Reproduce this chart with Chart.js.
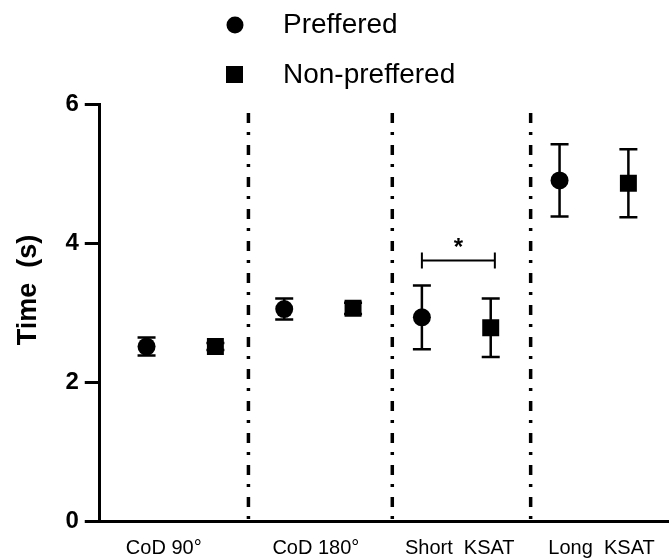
<!DOCTYPE html>
<html>
<head>
<meta charset="utf-8">
<script src="https://cdn.jsdelivr.net/npm/chart.js@4.4.1/dist/chart.umd.min.js"></script>
<style>
  html, body { margin: 0; padding: 0; background: #fff; }
  #wrap { width: 669px; height: 560px; }
</style>
</head>
<body>
<div id="wrap"><canvas id="timeChart" width="669" height="560"></canvas></div>
<script>
// Test conditions and mean +/- SD times (s)
const categories = ['CoD 90°', 'CoD 180°', 'Short  KSAT', 'Long  KSAT'];
const preferred = [2.51, 3.05, 2.93, 4.90];
const preferredSD = [0.13, 0.15, 0.46, 0.52];
const nonPreferred = [2.51, 3.06, 2.78, 4.86];
const nonPreferredSD = [0.05, 0.08, 0.42, 0.49];
const yTicks = [0, 2, 4, 6];

// x layout (in scale units, one unit = distance between two markers)
const labelPos = [1.25, 3.46, 5.55, 7.61];
const dividerPos = [2.48, 4.57, 6.58];
const sigPair = { from: 5.0, to: 6.06, y: 3.75, label: '*' };

const FONT = "'Liberation Sans', Arial, sans-serif";

const prefPoints = preferred.map((v, i) => ({ x: 2 * i + 1, y: v }));
const nonPrefPoints = nonPreferred.map((v, i) => ({ x: 2 * i + 2, y: v }));

// error bars, dash-dot dividers, significance bracket and legend
const extras = {
    id: 'extras',
    afterDatasetsDraw(chart) {
        const ctx = chart.ctx;
        const xs = chart.scales.x, ys = chart.scales.y;
        const area = chart.chartArea;
        ctx.save();
        ctx.strokeStyle = '#000';
        ctx.fillStyle = '#000';

        // dividers
        ctx.lineWidth = 3.5;
        ctx.setLineDash([10, 9, 3, 10]);
        dividerPos.forEach(d => {
            const px = xs.getPixelForValue(d);
            ctx.beginPath();
            ctx.moveTo(px, area.top + 9);
            ctx.lineTo(px, area.bottom);
            ctx.stroke();
        });
        ctx.setLineDash([]);

        // error bars
        ctx.lineWidth = 2.5;
        const bars = (pts, sd) => pts.forEach((p, i) => {
            const px = xs.getPixelForValue(p.x);
            const top = ys.getPixelForValue(p.y + sd[i]);
            const bot = ys.getPixelForValue(p.y - sd[i]);
            ctx.beginPath();
            ctx.moveTo(px, top); ctx.lineTo(px, bot);
            ctx.moveTo(px - 9, top); ctx.lineTo(px + 9, top);
            ctx.moveTo(px - 9, bot); ctx.lineTo(px + 9, bot);
            ctx.stroke();
        });
        bars(prefPoints, preferredSD);
        bars(nonPrefPoints, nonPreferredSD);

        // significance bracket
        const x1 = xs.getPixelForValue(sigPair.from);
        const x2 = xs.getPixelForValue(sigPair.to);
        const yb = ys.getPixelForValue(sigPair.y);
        ctx.lineWidth = 2;
        ctx.beginPath();
        ctx.moveTo(x1, yb); ctx.lineTo(x2, yb);
        ctx.moveTo(x1, yb - 8); ctx.lineTo(x1, yb + 8);
        ctx.moveTo(x2, yb - 8); ctx.lineTo(x2, yb + 8);
        ctx.stroke();
        ctx.font = 'bold 24px ' + FONT;
        ctx.textAlign = 'center';
        ctx.textBaseline = 'middle';
        ctx.fillText(sigPair.label, (x1 + x2) / 2, yb - 12);

        // legend
        ctx.beginPath();
        ctx.arc(235, 25, 8.5, 0, Math.PI * 2);
        ctx.fill();
        ctx.fillRect(226, 66, 17, 17);
        ctx.font = '28px ' + FONT;
        ctx.textAlign = 'left';
        ctx.fillText(chart.data.datasets[0].label, 283, 25);
        ctx.fillText(chart.data.datasets[1].label, 283, 75);
        ctx.restore();
    }
};

new Chart(document.getElementById('timeChart'), {
    type: 'scatter',
    data: {
        datasets: [{
            label: 'Preffered',
            data: prefPoints,
            pointStyle: 'circle',
            pointRadius: 9,
            backgroundColor: '#000',
            borderWidth: 0
        }, {
            label: 'Non-preffered',
            data: nonPrefPoints,
            pointStyle: 'rect',
            pointRadius: 12,
            backgroundColor: '#000',
            borderWidth: 0
        }]
    },
    options: {
        responsive: false,
        animation: false,
        layout: { autoPadding: false, padding: { top: 104, left: 8, right: 0, bottom: -15 } },
        plugins: {
            legend: { display: false },
            tooltip: { enabled: false }
        },
        scales: {
            x: {
                type: 'linear',
                min: 0.32,
                max: 8.59,
                afterBuildTicks: (scale) => {
                    scale.ticks = labelPos.map(v => ({ value: v }));
                },
                afterFit: (scale) => {
                    scale.paddingLeft = 0;
                    scale.paddingRight = 0;
                },
                ticks: {
                    autoSkip: false,
                    maxRotation: 0,
                    padding: 15,
                    color: '#000',
                    font: { family: FONT, size: 20 },
                    callback: (value, index) => categories[index]
                },
                grid: { display: false, drawTicks: false },
                border: { display: true, color: '#000', width: 3 }
            },
            y: {
                min: 0,
                max: 6,
                afterBuildTicks: (scale) => {
                    scale.ticks = yTicks.map(v => ({ value: v }));
                },
                title: {
                    display: true,
                    text: '      Time  (s)',
                    color: '#000',
                    font: { family: FONT, size: 27, weight: 'bold' },
                    padding: { top: 4, bottom: 15 }
                },
                ticks: {
                    padding: 6,
                    color: '#000',
                    font: { family: FONT, size: 24, weight: 'bold' }
                },
                grid: {
                    drawOnChartArea: false,
                    drawTicks: true,
                    tickLength: 15,
                    tickWidth: 3,
                    tickColor: '#000',
                    lineWidth: 3,
                    color: '#000'
                },
                border: { display: true, color: '#000', width: 3 }
            }
        }
    },
    plugins: [extras]
});
</script>
</body>
</html>
